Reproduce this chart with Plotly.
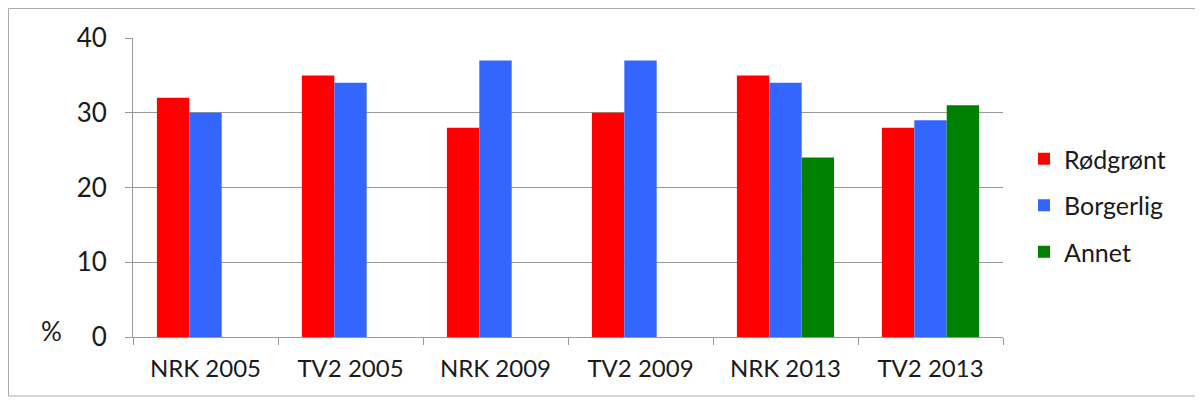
import plotly.graph_objects as go

categories = ["NRK 2005", "TV2 2005", "NRK 2009", "TV2 2009", "NRK 2013", "TV2 2013"]
rodgront = [32, 35, 28, 30, 35, 28]
borgerlig = [30, 34, 37, 37, 34, 29]
annet = [None, None, None, None, 24, 31]
series_names = ["Rødgrønt", "Borgerlig", "Annet"]
colors = ["#FF0000", "#3366FF", "#008000"]
y_ticks = [0, 10, 20, 30, 40]

FONT = "Lato, 'Open Sans', sans-serif"
TXT = "#1a1a1a"

fig = go.Figure()
for name, vals, col in zip(series_names, [rodgront, borgerlig, annet], colors):
    fig.add_trace(go.Bar(x=categories, y=vals, name=name, marker_color=col,
                         marker_line_width=0, legendgroup=name))

OFF = 8  # page body margin
W, H = 1203 - OFF, 403 - OFF
# plot area in page pixels: x 133..1003, y 38..337
L = 133 - OFF
T = 38 - OFF
R = W - (1003 - OFF)
B = H - (337 - OFF)
pw, ph = W - L - R, H - T - B

def px(x):  # page pixel -> paper
    return (x - OFF - L) / pw

def py(y):
    return (H - B - (y - OFF)) / ph

fig.update_layout(
    width=W, height=H,
    margin=dict(l=L, r=R, t=T, b=B),
    paper_bgcolor="white", plot_bgcolor="white",
    barmode="group", bargap=0.33, bargroupgap=0,
    font=dict(family=FONT, size=24, color=TXT),
    legend=dict(x=px(1024), xanchor="left", y=py(136), yanchor="top",
                traceorder="grouped", tracegroupgap=11,
                font=dict(family=FONT, size=25, color=TXT),
                itemwidth=30),
    xaxis=dict(showgrid=False, showline=True, linecolor="#999999", linewidth=1,
               ticks="outside", tickson="boundaries", ticklen=7, tickcolor="#999999",
               ticklabelstandoff=10,
               tickfont=dict(family=FONT, size=24, color=TXT)),
    yaxis=dict(range=[0, 40], tickvals=y_ticks, showgrid=True, gridcolor="#999999",
               gridwidth=1, showline=True, linecolor="#999999", linewidth=1,
               ticks="outside", ticklen=7, tickcolor="#999999",
               ticklabelstandoff=13, zeroline=False,
               tickfont=dict(family=FONT, size=26, color=TXT)),
    shapes=[dict(type="rect", xref="paper", yref="paper",
                 x0=px(8.5), x1=px(1196), y0=py(396), y1=py(8.5),
                 line=dict(color="#aaaaaa", width=1))],
    annotations=[dict(text="%", xref="paper", yref="paper", x=px(51), y=py(331),
                      xanchor="center", yanchor="middle", showarrow=False,
                      font=dict(family=FONT, size=26, color=TXT))],
)

fig.write_html("out.html")
